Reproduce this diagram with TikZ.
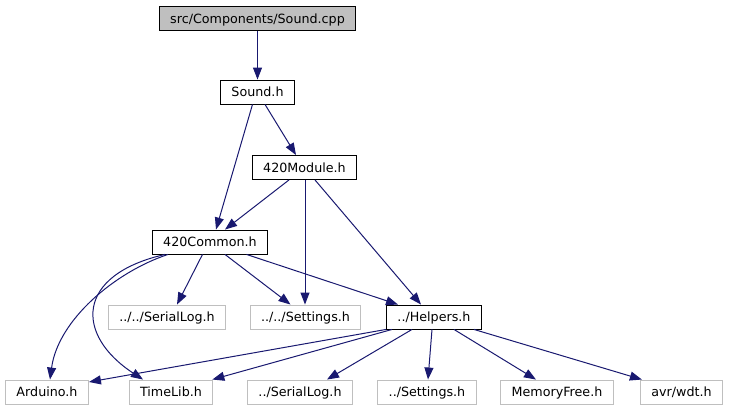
\documentclass[tikz,border=0pt]{standalone}
\usepackage{fontspec}
\setmainfont{DejaVu Sans}
\usetikzlibrary{arrows.meta}
\definecolor{edgeblue}{HTML}{191970}
\definecolor{grayborder}{HTML}{BFBFBF}
\begin{document}
\begin{tikzpicture}[x=1pt,y=-1pt,
  box/.style={draw=black, fill=white, line width=0.9pt, minimum height=24pt, inner xsep=11pt, inner ysep=0pt,
    font=\fontsize{12.7}{14}\selectfont, text height=12pt, text depth=2.7pt, anchor=center},
  ext/.style={box, draw=grayborder},
  root/.style={box, fill=grayborder},
  edge/.style={draw=edgeblue, line width=1pt, -{Triangle[length=12pt,width=9pt]}}]
\useasboundingbox (0,0) rectangle (729,411);

\node[root] (cpp) at (257.5,18.5) {src/Components/Sound.cpp};
\node[box] (snd) at (257.5,92) {Sound.h};
\node[box] (mod) at (304.5,167.5) {420Module.h};
\node[box] (com) at (210,242) {420Common.h};
\node[ext] (sl2) at (167,317) {../../SerialLog.h};
\node[ext] (st2) at (305.5,317) {../../Settings.h};
\node[box] (hel) at (434,317) {../Helpers.h};
\node[ext] (ard) at (47,392) {Arduino.h};
\node[ext] (tim) at (171,392) {TimeLib.h};
\node[ext] (sl1) at (300,392) {../SerialLog.h};
\node[ext] (st1) at (427,392) {../Settings.h};
\node[ext] (mem) at (557,392) {MemoryFree.h};
\node[ext] (avr) at (681.5,392) {avr/wdt.h};

\draw[edge] (cpp.south) -- (snd.north);
\draw[edge] ([xshift=-5pt]snd.south) -- ([xshift=6pt]com.north);
\draw[edge] ([xshift=7.5pt]snd.south) -- ([xshift=-8.5pt]mod.north);
\draw[edge] ([xshift=-15.5pt]mod.south) -- ([xshift=15pt]com.north);
\draw[edge] ([xshift=0.5pt]mod.south) -- ([xshift=-0.5pt]st2.north);
\draw[edge] ([xshift=10.5pt]mod.south) -- ([xshift=-13pt]hel.north);
\draw[edge] ([xshift=-42pt]com.south) .. controls (115,272) and (58,320) .. ([xshift=3pt]ard.north);
\draw[edge] ([xshift=-45pt]com.south) .. controls (75,275) and (75,335) .. ([xshift=-28pt]tim.north);
\draw[edge] ([xshift=-7.5pt]com.south) -- ([xshift=10pt]sl2.north);
\draw[edge] ([xshift=15pt]com.south) -- ([xshift=-15pt]st2.north);
\draw[edge] ([xshift=36.5pt]com.south) -- ([xshift=-36pt]hel.north);
\draw[edge] (hel.south west) -- ([yshift=10pt]ard.east);
\draw[edge] ([xshift=6pt]hel.south west) -- ([xshift=-1pt]tim.north east);
\draw[edge] ([xshift=-22pt]hel.south) -- ([xshift=27pt]sl1.north);
\draw[edge] ([xshift=-2pt]hel.south) -- ([xshift=1pt]st1.north);
\draw[edge] ([xshift=20pt]hel.south) -- ([xshift=-21pt]mem.north);
\draw[edge] ([xshift=40pt]hel.south) -- ([xshift=2pt]avr.north west);
\end{tikzpicture}
\end{document}
